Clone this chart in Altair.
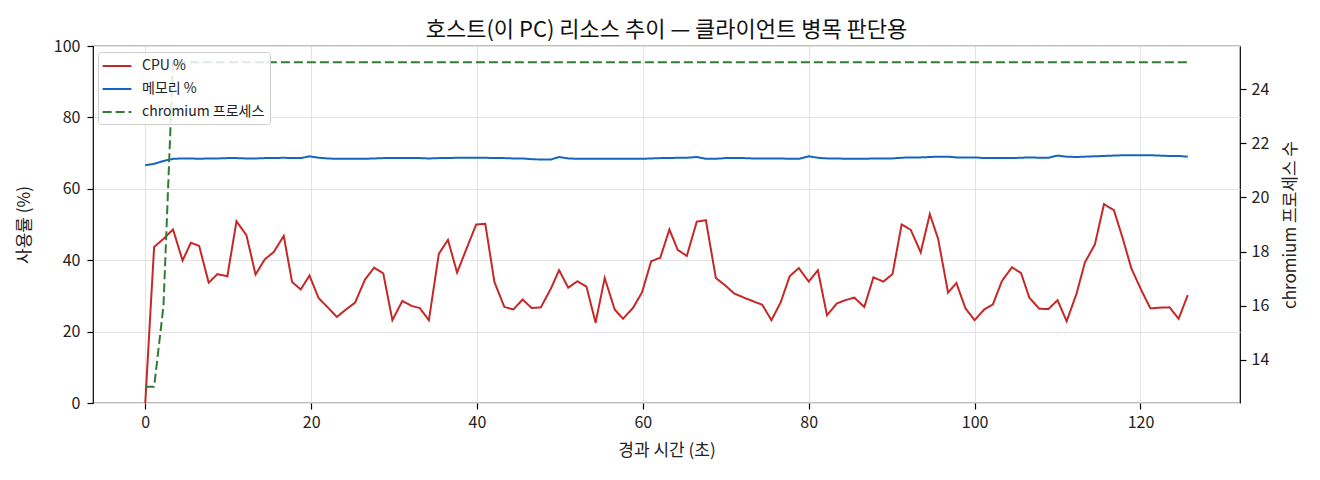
import altair as alt
import pandas as pd

# 경과 시간(초) — 그림에서 읽은 샘플 시각
t_sec = [
    0, 1.07, 2.2, 3.35, 4.5, 5.5, 6.5, 7.65, 8.7, 9.9,
    11.0, 12.2, 13.3, 14.4, 15.5, 16.7, 17.7, 18.75, 19.8, 20.9,
    22.0, 23.1, 24.2, 25.3, 26.5, 27.6, 28.7, 29.8, 31.0, 32.1,
    33.1, 34.2, 35.4, 36.5, 37.6, 38.8, 39.9, 41.0, 42.1, 43.3,
    44.4, 45.5, 46.6, 47.7, 48.9, 49.9, 51.0, 52.1, 53.2, 54.3,
    55.4, 56.6, 57.6, 58.8, 59.9, 61.0, 62.1, 63.2, 64.2, 65.3,
    66.5, 67.6, 68.8, 69.9, 71.0, 72.2, 73.3, 74.4, 75.5, 76.6,
    77.7, 78.8, 80.0, 81.1, 82.2, 83.4, 84.4, 85.5, 86.7, 87.8,
    89.0, 90.1, 91.2, 92.3, 93.5, 94.6, 95.6, 96.8, 97.8, 98.9,
    100.0, 101.2, 102.2, 103.3, 104.5, 105.6, 106.6, 107.8, 108.9, 110.0,
    111.1, 112.3, 113.3, 114.5, 115.6, 116.8, 117.9, 118.9, 120.1, 121.2,
    122.3, 123.5, 124.6, 125.7,
]

cpu_pct = [
    0, 43.7, 46, 48.6, 39.9, 44.9, 44, 33.7, 36.1, 35.5,
    50.9, 47, 36, 40.2, 42.3, 46.8, 33.9, 31.8, 35.7, 29.4,
    26.8, 24.1, 26.2, 28.1, 34.6, 37.9, 36.3, 23.2, 28.6, 27.2,
    26.6, 23.2, 41.8, 45.7, 36.5, 43.6, 50, 50.2, 33.9, 26.9,
    26.2, 29, 26.6, 26.8, 32, 37.2, 32.3, 34.1, 32.6, 22.5,
    35, 26.2, 23.6, 26.6, 31, 39.7, 40.7, 48.6, 42.9, 41.2,
    50.8, 51.2, 35, 33, 30.7, 29.5, 28.5, 27.5, 23.2, 28.1,
    35.5, 37.8, 34, 37.2, 24.6, 27.9, 28.8, 29.5, 26.9, 35.2,
    34, 36.1, 50, 48.5, 42.2, 52.9, 46, 30.9, 33.6, 26.5,
    23.2, 26.3, 27.6, 34.2, 38, 36.4, 29.5, 26.4, 26.3, 28.8,
    22.9, 30.7, 39.4, 44.4, 55.7, 54, 45.8, 37.7, 31.6, 26.5,
    26.7, 26.8, 23.6, 30.2,
]

mem_pct = [
    66.6, 67.0, 67.8, 68.4, 68.5, 68.5, 68.4, 68.5, 68.5, 68.6,
    68.6, 68.5, 68.5, 68.6, 68.6, 68.7, 68.6, 68.6, 69.1, 68.7,
    68.5, 68.4, 68.4, 68.4, 68.4, 68.5, 68.6, 68.6, 68.6, 68.6,
    68.6, 68.5, 68.6, 68.6, 68.7, 68.7, 68.7, 68.7, 68.6, 68.6,
    68.5, 68.5, 68.3, 68.2, 68.2, 68.9, 68.5, 68.4, 68.4, 68.4,
    68.4, 68.4, 68.4, 68.4, 68.4, 68.5, 68.6, 68.6, 68.7, 68.7,
    68.9, 68.4, 68.4, 68.6, 68.6, 68.6, 68.5, 68.5, 68.5, 68.5,
    68.4, 68.4, 69.1, 68.7, 68.5, 68.5, 68.4, 68.4, 68.4, 68.5,
    68.5, 68.5, 68.7, 68.8, 68.8, 68.9, 69.0, 69.0, 68.8, 68.8,
    68.8, 68.6, 68.6, 68.6, 68.6, 68.7, 68.8, 68.7, 68.7, 69.3,
    69.0, 68.9, 69.0, 69.1, 69.2, 69.3, 69.4, 69.4, 69.4, 69.4,
    69.3, 69.2, 69.2, 69.0,
]

chromium_cnt = [13, 13, 16] + [25] * (len(t_sec) - 3)

SERIES = ["CPU %", "메모리 %", "chromium 프로세스"]
COLORS = ["#c62828", "#1565c0", "#2e7d32"]
DASHES = [[1, 0], [1, 0], [9, 4]]

FONT = "Noto Sans CJK KR"

pct_df = pd.concat([
    pd.DataFrame({"t": t_sec, "value": cpu_pct, "series": SERIES[0]}),
    pd.DataFrame({"t": t_sec, "value": mem_pct, "series": SERIES[1]}),
])
proc_df = pd.DataFrame({"t": t_sec, "count": chromium_cnt, "series": SERIES[2]})

# 범례 기호: 가로로 긴 선 (matplotlib 범례처럼)
LEGEND_LINE = "M-1.8,0H1.8"

color = alt.Color(
    "series:N",
    scale=alt.Scale(domain=SERIES, range=COLORS),
    legend=alt.Legend(
        title=None, orient="none", legendX=5, legendY=6,
        symbolType=LEGEND_LINE, symbolSize=256, symbolStrokeWidth=2,
        symbolOffset=5, labelFontSize=14, labelOffset=16, rowPadding=7,
        padding=5, fillColor="rgba(255,255,255,0.85)",
        strokeColor="#cccccc", cornerRadius=3,
    ),
)
dash = alt.StrokeDash(
    "series:N",
    scale=alt.Scale(domain=SERIES, range=DASHES),
    legend=alt.Legend(title=None, orient="none", legendX=5, legendY=6),
)
x = alt.X(
    "t:Q", title="경과 시간 (초)",
    scale=alt.Scale(domain=[-6.3, 132], nice=False, zero=False),
    axis=alt.Axis(values=[0, 20, 40, 60, 80, 100, 120], titlePadding=12, labelPadding=5),
)

pct = alt.Chart(pct_df).mark_line(strokeWidth=2).encode(
    x=x,
    y=alt.Y(
        "value:Q", title="사용률 (%)",
        scale=alt.Scale(domain=[0, 100], nice=False),
        axis=alt.Axis(values=[0, 20, 40, 60, 80, 100], titlePadding=20, labelPadding=7),
    ),
    color=color,
    strokeDash=dash,
    detail="series:N",
)

proc = alt.Chart(proc_df).mark_line(strokeWidth=2).encode(
    x=x,
    y=alt.Y(
        "count:Q", title="chromium 프로세스 수",
        scale=alt.Scale(domain=[12.4, 25.6], nice=False, zero=False),
        axis=alt.Axis(orient="right", values=[14, 16, 18, 20, 22, 24],
                      grid=False, titleAngle=270, titlePadding=31, labelPadding=5),
    ),
    color=color,
    strokeDash=dash,
)

chart = (
    alt.layer(pct, proc)
    .resolve_scale(y="independent")
    .properties(
        width=1147, height=357,
        title=alt.Title("호스트(이 PC) 리소스 추이 — 클라이언트 병목 판단용",
                        fontSize=22, fontWeight="normal", offset=-4, anchor="middle"),
        autosize=alt.AutoSizeParams(type="none"),
        padding={"left": 85, "top": 38, "right": 72, "bottom": 64},
    )
    .configure(font=FONT)
    .configure_view(stroke="black", strokeWidth=1.2)
    .configure_axis(
        domain=False, tickColor="black", tickSize=6, tickWidth=1.2,
        labelFontSize=16, labelColor="#222222", labelFont=FONT,
        titleFontSize=17, titleFontWeight="normal", titleColor="#222222", titleFont=FONT,
        gridColor="#e3e3e3", gridWidth=1,
    )
    .configure_legend(labelFont=FONT, labelColor="#222222")
    .configure_title(font=FONT, color="#111111")
)

chart.save("out.html", embed_options={"renderer": "svg", "actions": False})
